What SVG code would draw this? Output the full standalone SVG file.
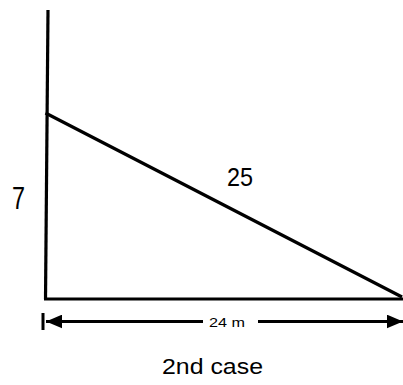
<svg xmlns="http://www.w3.org/2000/svg" width="403" height="385" viewBox="0 0 403 385">
<style>
.ln{stroke:#000;stroke-width:3.2;fill:none;stroke-linecap:butt}
.t{font-family:"Liberation Sans",Arial,sans-serif;fill:#000}
</style>
<defs>
<marker id="ah" markerUnits="userSpaceOnUse" markerWidth="16" markerHeight="14" refX="14" refY="6" orient="auto-start-reverse" viewBox="0 0 14 12">
<path d="M0,0 L14,6 L0,12 Z" fill="#000"/>
</marker>
</defs>
<rect width="403" height="385" fill="#fff"/>
<g id="triangle">
<line class="ln" x1="48" y1="10" x2="45.5" y2="299"/>
<line class="ln" x1="45.5" y1="113" x2="402" y2="297"/>
<line class="ln" x1="44" y1="299" x2="403" y2="299"/>
</g>
<g id="connectors">
<rect x="41.5" y="313" width="3" height="17" fill="#000"/>
<line class="ln" x1="46" y1="321.5" x2="203" y2="321.5" marker-start="url(#ah)"/>
<line class="ln" x1="258" y1="321.5" x2="403" y2="321.5" marker-end="url(#ah)"/>
</g>
<g id="labels">
<text class="t" x="12" y="209" font-size="31" textLength="13" lengthAdjust="spacingAndGlyphs">7</text>
<text class="t" x="227" y="186" font-size="26" textLength="26" lengthAdjust="spacingAndGlyphs">25</text>
<text class="t" x="209" y="327" font-size="13" textLength="36" lengthAdjust="spacingAndGlyphs">24 m</text>
<text class="t" x="162" y="374" font-size="22" textLength="101" lengthAdjust="spacingAndGlyphs">2nd case</text>
</g>
</svg>
